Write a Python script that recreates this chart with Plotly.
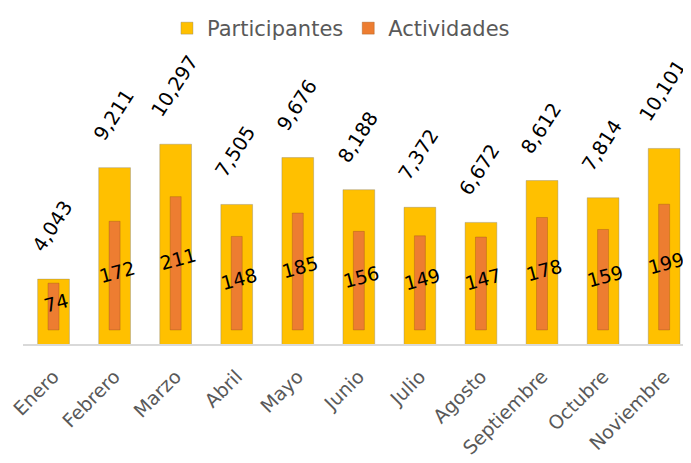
import plotly.graph_objects as go

meses = ["Enero", "Febrero", "Marzo", "Abril", "Mayo", "Junio", "Julio",
         "Agosto", "Septiembre", "Octubre", "Noviembre"]
participantes = [4043, 9211, 10297, 7505, 9676, 8188, 7372, 6672, 8612, 7814, 10101]
actividades = [74, 172, 211, 148, 185, 156, 149, 147, 178, 159, 199]

GOLD = "#FFC000"
ORANGE = "#ED7D31"
FONT = "DejaVu Sans"

fig = go.Figure()
fig.add_bar(x=meses, y=participantes, name="Participantes",
            marker=dict(color=GOLD, line=dict(color="rgba(120,120,120,0.35)", width=1)),
            width=0.52, yaxis="y", hoverinfo="skip")
fig.add_bar(x=meses, y=actividades, name="Actividades",
            marker=dict(color=ORANGE, line=dict(color="rgba(150,80,20,0.35)", width=1)),
            width=0.18, yaxis="y2", hoverinfo="skip")

annotations = []
for m, v in zip(meses, participantes):
    annotations.append(dict(x=m, y=v, xref="x", yref="y", text=f"{v:,}",
                            showarrow=False, textangle=-57, yanchor="bottom",
                            xshift=-1, yshift=20,
                            font=dict(family=FONT, size=19.5, color="black")))
for m, v in zip(meses, actividades):
    annotations.append(dict(x=m, y=v / 2, xref="x", yref="y2", text=str(v),
                            showarrow=False, textangle=-15, xshift=2, yshift=4,
                            font=dict(family=FONT, size=19, color="black")))

# page body has an 8px margin, so the figure is sized/offset to compensate
fig.update_layout(
    width=683, height=455,
    margin=dict(l=15, r=0, t=32, b=119),
    paper_bgcolor="white", plot_bgcolor="white",
    barmode="overlay",
    font=dict(family=FONT, size=19, color="#595959"),
    xaxis=dict(range=[-0.5, 10.44], showline=True, linecolor="#D9D9D9", linewidth=2,
               tickangle=-45, ticks="", ticklabelstandoff=12,
               tickfont=dict(family=FONT, size=19, color="#595959"),
               showgrid=False, zeroline=False),
    yaxis=dict(range=[1035, 14710], visible=False, showgrid=False, zeroline=False),
    yaxis2=dict(range=[-22.3, 444.7], overlaying="y", visible=False,
                showgrid=False, zeroline=False),
    legend=dict(orientation="h", x=0.476, xanchor="center", yref="container",
                y=1.0, yanchor="top", font=dict(family=FONT, size=21, color="#595959"),
                bgcolor="rgba(0,0,0,0)"),
    annotations=annotations,
    showlegend=True,
)

fig.write_html("out.html")
